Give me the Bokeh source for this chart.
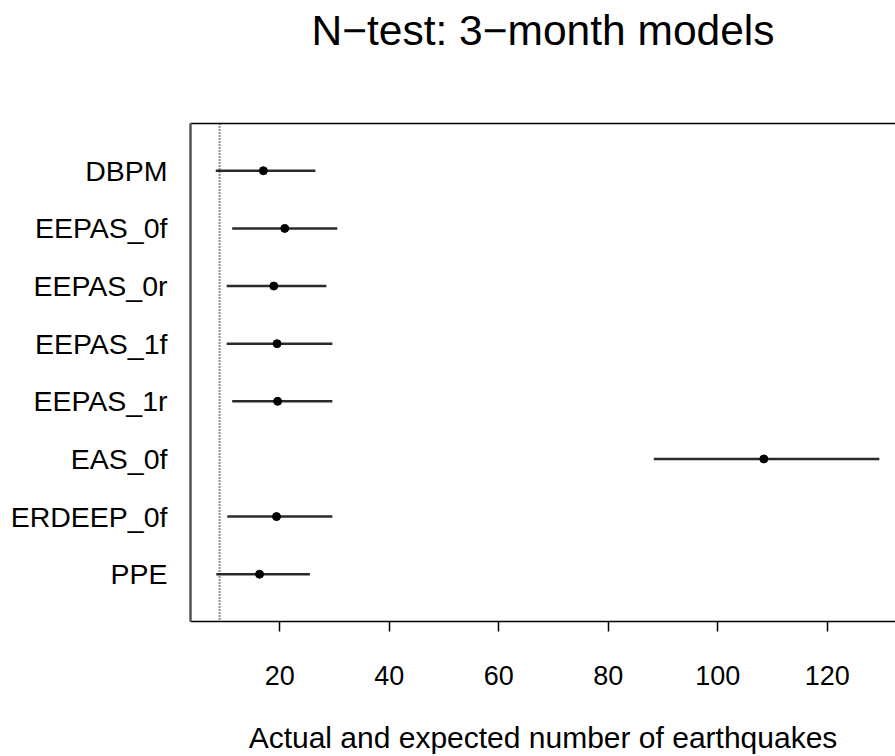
from bokeh.plotting import figure
from bokeh.models import ColumnDataSource, FixedTicker, LinearAxis, Range1d, Span
from bokeh.embed import file_html
from bokeh.resources import INLINE

# N-test results for the 3-month forecasting models
models = ["DBPM", "EEPAS_0f", "EEPAS_0r", "EEPAS_1f", "EEPAS_1r",
          "EAS_0f", "ERDEEP_0f", "PPE"]
expected = [17.0, 20.9, 18.9, 19.5, 19.6, 108.4, 19.4, 16.3]
lower = [8.3, 11.3, 10.3, 10.3, 11.3, 88.3, 10.4, 8.4]
upper = [26.5, 30.5, 28.5, 29.6, 29.6, 129.5, 29.6, 25.5]
observed = 9
x_ticks = [20, 40, 60, 80, 100, 120]
title = "N\u2212test: 3\u2212month models"

FONT = "Liberation Sans"

# first model at the top of the chart
rows = [len(models) - i for i in range(len(models))]
src = ColumnDataSource(dict(y=rows, lo=lower, hi=upper, mid=expected))

p = figure(width=895, height=756, output_backend="svg", toolbar_location=None,
           x_range=Range1d(3.69, 132.45), y_range=Range1d(0.18, 8.82),
           x_axis_type=None, y_axis_type=None,
           min_border_left=190, min_border_right=0,
           min_border_top=123, min_border_bottom=135)
p.outline_line_color = None
p.grid.visible = False
p.background_fill_color = "white"
p.border_fill_color = "white"

# bottom axis
xax = LinearAxis(ticker=FixedTicker(ticks=x_ticks))
xax.axis_label = "Actual and expected number of earthquakes"
xax.axis_label_text_font = FONT
xax.axis_label_text_font_size = "30px"
xax.axis_label_text_font_style = "normal"
xax.axis_label_text_color = "black"
xax.axis_label_standoff = 33
xax.major_label_text_font = FONT
xax.major_label_text_font_size = "27px"
xax.major_label_text_color = "black"
xax.major_label_standoff = 34
xax.major_tick_out = 10
xax.major_tick_in = 0
xax.major_tick_line_color = "black"
xax.major_tick_line_width = 1.5
xax.minor_tick_line_color = None
xax.axis_line_color = "black"
xax.axis_line_width = 1.5
p.add_layout(xax, "below")

# left axis with model names
yax = LinearAxis(ticker=FixedTicker(ticks=rows))
yax.major_label_overrides = {r: m for r, m in zip(rows, models)}
yax.major_label_text_font = FONT
yax.major_label_text_font_size = "28.5px"
yax.major_label_text_color = "black"
yax.major_label_standoff = 23
yax.major_tick_line_color = None
yax.major_tick_out = 0
yax.major_tick_in = 0
yax.minor_tick_line_color = None
yax.axis_line_color = "#555555"
yax.axis_line_width = 2.5
p.add_layout(yax, "left")

# top border of the box; its label carries the chart title
top = LinearAxis(ticker=FixedTicker(ticks=[]))
top.major_label_text_font_size = "0px"
top.major_tick_line_color = None
top.minor_tick_line_color = None
top.axis_line_color = "black"
top.axis_line_width = 1.5
top.axis_label = title
top.axis_label_text_font = FONT
top.axis_label_text_font_size = "42.5px"
top.axis_label_text_font_style = "normal"
top.axis_label_text_color = "black"
top.axis_label_standoff = 70
p.add_layout(top, "above")

# observed number of earthquakes
p.add_layout(Span(location=observed, dimension="height", line_color="#222222",
                  line_width=2, line_dash="1 2"))

# ranges and expected values
p.segment(x0="lo", x1="hi", y0="y", y1="y", source=src,
          line_color="#2a2a2a", line_width=2.5)
p.scatter(x="mid", y="y", source=src, size=8, color="black")

open("out.html", "w").write(file_html(p, INLINE))
